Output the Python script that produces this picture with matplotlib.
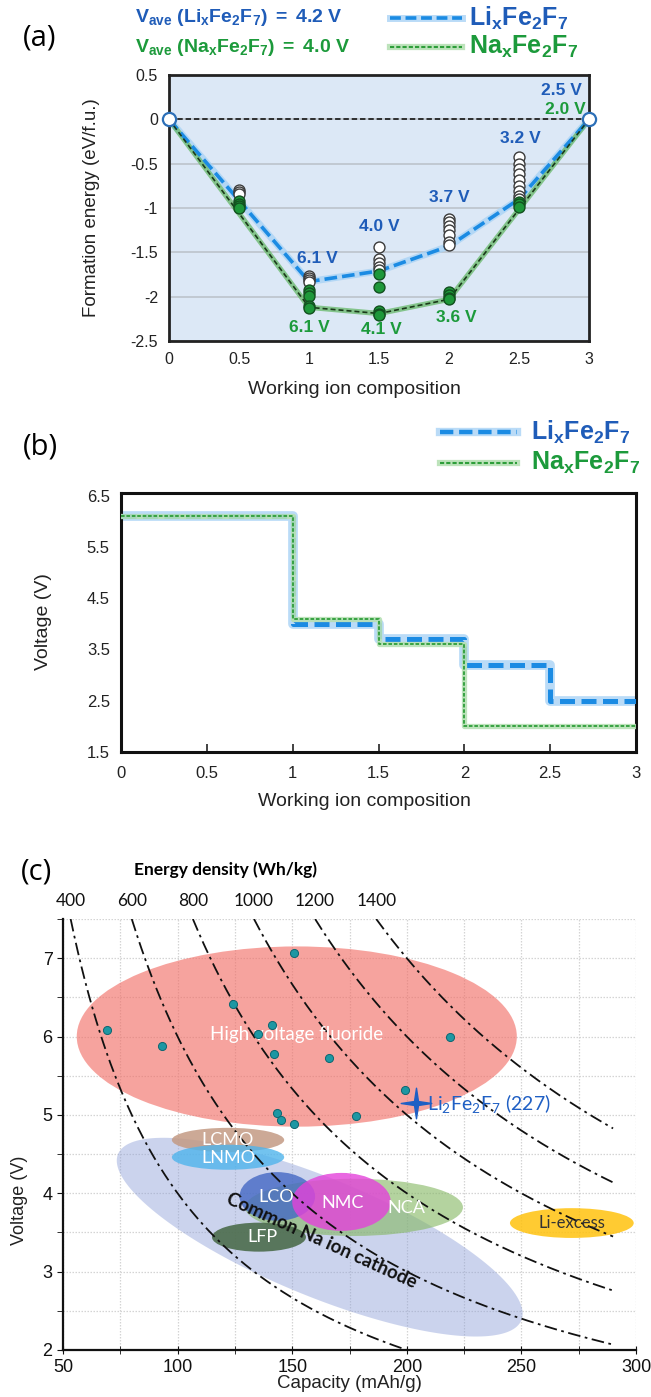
import numpy as np
import matplotlib
matplotlib.use("Agg")
import matplotlib.pyplot as plt
from matplotlib import font_manager
from matplotlib.lines import Line2D
from matplotlib.patches import Ellipse
from matplotlib.path import Path

W, H = 651, 1397


def has_font(name):
    try:
        font_manager.findfont(font_manager.FontProperties(family=name),
                              fallback_to_default=False)
        return True
    except Exception:
        return False


NARROW = 'Liberation Sans Narrow' if has_font('Liberation Sans Narrow') else 'Liberation Sans'
plt.rcParams['font.family'] = ['Liberation Sans', 'DejaVu Sans']
plt.rcParams['mathtext.fontset'] = 'custom'
plt.rcParams['mathtext.rm'] = NARROW
plt.rcParams['mathtext.bf'] = NARROW + ':bold'
plt.rcParams['mathtext.it'] = NARROW + ':italic'
plt.rcParams['mathtext.sf'] = 'Lato' if has_font('Lato') else 'DejaVu Sans'

# ---------------- data: panel (a) ----------------
comp_ticks = [0, 0.5, 1, 1.5, 2, 2.5, 3]
comp_tick_labels = ['0', '0.5', '1', '1.5', '2', '2.5', '3']
energy_ticks = [0.5, 0, -0.5, -1, -1.5, -2, -2.5]
energy_tick_labels = ['0.5', '0', '-0.5', '-1', '-1.5', '-2', '-2.5']

li_hull_x = [0, 1, 1.5, 2, 2.5, 3]
li_hull_e = [0, -1.83, -1.71, -1.43, -0.90, 0]
na_hull_x = [0, 1, 1.5, 2, 3]
na_hull_e = [0, -2.12, -2.19, -2.03, 0]

li_pts_x = [0.5, 0.5, 0.5, 1, 1, 1, 1, 1.5, 1.5, 1.5, 1.5, 1.5,
            2, 2, 2, 2, 2, 2, 2, 2.5, 2.5, 2.5, 2.5, 2.5, 2.5, 2.5, 2.5, 2.5]
li_pts_e = [-0.80, -0.82, -0.84, -1.77, -1.79, -1.81, -1.83,
            -1.44, -1.58, -1.62, -1.66, -1.70,
            -1.12, -1.16, -1.20, -1.25, -1.30, -1.38, -1.42,
            -0.43, -0.50, -0.56, -0.62, -0.68, -0.75, -0.81, -0.86, -0.90]
na_pts_x = [0.5, 0.5, 0.5, 0.5, 1, 1, 1, 1, 1, 1.5, 1.5, 1.5, 1.5, 1.5,
            2, 2, 2, 2, 2.5, 2.5, 2.5]
na_pts_e = [-0.92, -0.95, -0.98, -1.00, -1.93, -1.96, -1.99, -2.11, -2.13,
            -1.75, -1.89, -2.16, -2.19, -2.21,
            -1.95, -1.98, -2.01, -2.03, -0.93, -0.96, -0.99]
end_x = [0, 3]
end_e = [0, 0]

li_volt_labels = ['6.1 V', '4.0 V', '3.7 V', '3.2 V', '2.5 V']
li_volt_x = [1.06, 1.50, 2.00, 2.51, 2.80]
li_volt_y = [-1.57, -1.21, -0.88, -0.22, 0.32]
na_volt_labels = ['6.1 V', '4.1 V', '3.6 V', '2.0 V']
na_volt_x = [1.00, 1.52, 2.05, 2.83]
na_volt_y = [-2.35, -2.37, -2.23, 0.11]

# ---------------- data: panel (b) ----------------
li_step_x = [0, 1, 1.5, 2, 2.5, 3]
li_step_v = [6.1, 4.0, 3.7, 3.2, 2.5, 2.5]
na_step_x = [0, 1, 1.5, 2, 3]
na_step_v = [6.1, 4.1, 3.6, 2.0, 2.0]
volt_ticks = [1.5, 2.5, 3.5, 4.5, 5.5, 6.5]
volt_tick_labels = ['1.5', '2.5', '3.5', '4.5', '5.5', '6.5']

# ---------------- data: panel (c) ----------------
energy_levels = [400, 600, 800, 1000, 1200, 1400]
fluoride_cap = [69, 93, 124, 135, 141, 142, 151, 166, 219, 199, 143.5, 145, 151, 178]
fluoride_volt = [6.08, 5.88, 6.42, 6.03, 6.15, 5.78, 7.07, 5.73, 5.99, 5.32,
                 5.03, 4.93, 4.88, 4.98]
li2fe2f7_cap = [204]
li2fe2f7_volt = [5.15]

region_names = ['High voltage fluoride', 'LCMO', 'LNMO', 'NCA', 'LCO', 'NMC', 'LFP', 'Li-excess']
region_cx = [152, 122, 122, 177, 143.5, 171.5, 135.5, 272]
region_cy = [6.0, 4.68, 4.46, 3.82, 3.96, 3.89, 3.44, 3.62]
region_w = [192, 49, 49, 95, 33, 43, 41, 54]
region_h = [2.3, 0.31, 0.32, 0.73, 0.62, 0.74, 0.37, 0.38]
region_colors = ['#F26B63', '#C39A84', '#4FB4EC', '#86B865', '#4468C4', '#E442DA', '#4C6C4C', '#FFC20E']
region_alpha = [0.62, 0.85, 0.8, 0.62, 0.8, 0.8, 0.9, 0.85]
region_text_color = ['white', 'white', 'white', 'white', 'white', 'white', 'white', '#333333']
region_text_x = [152, 122, 122, 200, 143, 172, 137, 272]
region_text_y = [6.02, 4.68, 4.45, 3.81, 3.95, 3.87, 3.44, 3.62]
region_text_size = [13.5, 13, 13, 13, 13, 13, 13, 12]

na_cathode_tips_cap = [74, 250]
na_cathode_tips_volt = [4.50, 2.38]
na_cathode_minor_px = 118

cap_ticks = [50, 100, 150, 200, 250, 300]
volt_c_ticks = [2, 3, 4, 5, 6, 7]

# ---------------- colours ----------------
LI_TXT = '#1F5CB8'
NA_TXT = '#1C9A3B'
LI_LINE = '#1B8BE3'
LI_HALO = '#A9D3F5'
NA_LINE = '#2E9E3A'
NA_HALO = '#B6E0B4'

fig = plt.figure(figsize=(W / 100, H / 100), dpi=100)


def axes_px(l, t, r, b):
    return fig.add_axes([l / W, 1 - b / H, (r - l) / W, (b - t) / H])


def ftext(x, y, s, **kw):
    return fig.text(x / W, 1 - y / H, s, **kw)


def fline(x0, x1, y, **kw):
    fig.add_artist(Line2D([x0 / W, x1 / W], [1 - y / H, 1 - y / H],
                          transform=fig.transFigure, **kw))


# =============== panel (a) ===============
axa = axes_px(169, 75, 589, 341)
axa.set_xlim(0, 3)
axa.set_ylim(-2.5, 0.5)
axa.set_facecolor('#DCE8F6')
axa.set_yticks(energy_ticks)
axa.set_yticklabels(energy_tick_labels)
axa.set_xticks(comp_ticks)
axa.set_xticklabels(comp_tick_labels)
axa.yaxis.grid(True, color='#B9C0C8', lw=1.1)
axa.set_axisbelow(True)
axa.tick_params(length=0, labelsize=11.5, pad=8, colors='#222222')
for sp in axa.spines.values():
    sp.set_linewidth(2.0)
    sp.set_color('#222222')
axa.axhline(0, color='#222222', lw=1.3, ls=(0, (3, 1.6)), zorder=2)

axa.plot(li_hull_x, li_hull_e, color=LI_HALO, lw=5, alpha=0.8, zorder=2.5, solid_capstyle='round')
axa.plot(li_hull_x, li_hull_e, color=LI_LINE, lw=2.6, ls=(0, (3.5, 1.4)), zorder=3)
axa.plot(na_hull_x, na_hull_e, color='#5FB65F', lw=3.8, alpha=0.7, zorder=2.5)
axa.plot(na_hull_x, na_hull_e, color='#1A3A1A', lw=1.2, ls=(0, (3, 1.8)), zorder=3)

axa.scatter(li_pts_x, li_pts_e, s=62, facecolor='white', edgecolor='#3A3A3A', lw=1.0, zorder=4)
axa.scatter(na_pts_x, na_pts_e, s=62, facecolor='#1E983A', edgecolor='#12501F', lw=1.0, zorder=5)
axa.scatter(end_x, end_e, s=90, facecolor='white', edgecolor='#2C6FB7', lw=1.6, zorder=6, clip_on=False)

for s, x, y in zip(li_volt_labels, li_volt_x, li_volt_y):
    axa.text(x, y, s, color=LI_TXT, fontsize=12.5, fontweight='bold', ha='center', va='center', zorder=7)
for s, x, y in zip(na_volt_labels, na_volt_x, na_volt_y):
    axa.text(x, y, s, color=NA_TXT, fontsize=12.5, fontweight='bold', ha='center', va='center', zorder=7)

ftext(92, 208, 'Formation energy (eV/f.u.)', rotation=90, ha='center', va='center', fontsize=13.5, color='#222222')
ftext(354, 390, 'Working ion composition', ha='center', va='center', fontsize=14, color='#222222')
ftext(40, 38, '(a)', ha='center', va='center', fontsize=21, family=['Open Sans', 'DejaVu Sans'])

ftext(135, 18, r'$\mathbf{V_{ave}\ (Li_{x}Fe_{2}F_{7})\ =\ 4.2\ V}$', color=LI_TXT, fontsize=14, ha='left', va='center')
ftext(135, 47, r'$\mathbf{V_{ave}\ (Na_{x}Fe_{2}F_{7})\ =\ 4.0\ V}$', color=NA_TXT, fontsize=14, ha='left', va='center')


def legend_pair(y_li, y_na, x0, x1, xt, size, thick):
    fline(x0, x1, y_li, color=LI_HALO, lw=6 if thick else 5, alpha=0.8)
    fline(x0, x1, y_li, color=LI_LINE, lw=3.2 if thick else 2.6, ls=(0, (3, 1.3)))
    fline(x0, x1, y_na, color=NA_HALO, lw=4.5, alpha=0.9)
    fline(x0, x1, y_na, color=NA_LINE, lw=1.5, ls=(0, (2, 1)))
    ftext(xt, y_li, r'$\mathbf{Li_{x}Fe_{2}F_{7}}$', color=LI_TXT, fontsize=size, ha='left', va='center')
    ftext(xt, y_na, r'$\mathbf{Na_{x}Fe_{2}F_{7}}$', color=NA_TXT, fontsize=size, ha='left', va='center')


legend_pair(18, 47, 390, 462, 469, 18, False)

# =============== panel (b) ===============
axb = axes_px(121, 493, 636, 752)
axb.set_xlim(0, 3)
axb.set_ylim(1.5, 6.55)
axb.set_yticks(volt_ticks)
axb.set_yticklabels(volt_tick_labels)
axb.set_xticks(comp_ticks)
axb.set_xticklabels(comp_tick_labels)
axb.tick_params(axis='y', length=0, labelsize=12, pad=8, colors='#222222')
axb.tick_params(axis='x', direction='in', length=6, width=1.2, labelsize=12, pad=10, colors='#222222')
for sp in axb.spines.values():
    sp.set_linewidth(2.2)
    sp.set_color('#111111')
axb.step(li_step_x, li_step_v, where='post', color=LI_HALO, lw=7, alpha=0.8, zorder=2)
axb.step(li_step_x, li_step_v, where='post', color=LI_LINE, lw=3.6, ls=(0, (3, 1.3)), zorder=3)
axb.step(na_step_x, na_step_v, where='post', color=NA_HALO, lw=3.8, alpha=0.9, zorder=4)
axb.step(na_step_x, na_step_v, where='post', color=NA_LINE, lw=1.3, ls=(0, (2, 1)), zorder=5)

ftext(44, 622, 'Voltage (V)', rotation=90, ha='center', va='center', fontsize=14, color='#222222')
ftext(364, 802, 'Working ion composition', ha='center', va='center', fontsize=14, color='#222222')
ftext(40, 447, '(b)', ha='center', va='center', fontsize=21, family=['Open Sans', 'DejaVu Sans'])
legend_pair(432, 463, 440, 517, 531, 18, True)

# =============== panel (c) ===============
axc = axes_px(63, 919, 636, 1350)
axc.set_xlim(50, 300)
axc.set_ylim(2, 7.5)
for side in ['top', 'right']:
    axc.spines[side].set_visible(False)
for side in ['left', 'bottom']:
    axc.spines[side].set_linewidth(1.6)
    axc.spines[side].set_color('#111111')
axc.set_xticks(cap_ticks)
axc.set_xticks([75, 125, 175, 225, 275], minor=True)
axc.set_yticks(volt_c_ticks)
axc.set_yticks([2.5, 3.5, 4.5, 5.5, 6.5, 7.5], minor=True)
axc.tick_params(axis='both', which='both', labelsize=13, colors='#111111')
axc.tick_params(axis='x', which='both', direction='inout', length=6)
axc.tick_params(axis='y', which='both', direction='out', length=4)
axc.grid(True, which='both', color='#D4D4D4', lw=0.9, ls=(0, (1.2, 1.2)))
axc.set_axisbelow(True)
axc.set_xlabel('Capacity (mAh/g)', fontsize=13.5, labelpad=-1, color='#222222')

# rotated "common Na ion cathode" ellipse, built in display space
p = axc.transData.transform(np.column_stack([na_cathode_tips_cap, na_cathode_tips_volt]))
ctr = p.mean(axis=0)
d = p[1] - p[0]
a = np.hypot(*d) / 2
ang = np.arctan2(d[1], d[0])
b = na_cathode_minor_px / 2
t = np.linspace(0, 2 * np.pi, 200)
ex = ctr[0] + a * np.cos(t) * np.cos(ang) - b * np.sin(t) * np.sin(ang)
ey = ctr[1] + a * np.cos(t) * np.sin(ang) + b * np.sin(t) * np.cos(ang)
dpts = axc.transData.inverted().transform(np.column_stack([ex, ey]))
axc.fill(dpts[:, 0], dpts[:, 1], color='#8D9FD8', alpha=0.45, lw=0, zorder=1)

for i in range(len(region_names)):
    axc.add_patch(Ellipse((region_cx[i], region_cy[i]), region_w[i], region_h[i],
                          facecolor=region_colors[i], alpha=region_alpha[i], lw=0, zorder=2 + i * 0.1))
for i in range(len(region_names)):
    axc.text(region_text_x[i], region_text_y[i], region_names[i], color=region_text_color[i],
             fontsize=region_text_size[i], ha='center', va='center', zorder=6,
             family=['Lato', 'DejaVu Sans'])

cen = axc.transData.inverted().transform(ctr)
axc.text(cen[0] + 1, cen[1] - 0.05, 'Common Na ion cathode', rotation=np.degrees(ang) - 2,
         rotation_mode='anchor', ha='center', va='center', fontsize=13.5, fontweight='bold',
         family=['Lato', 'DejaVu Sans'], color='#111111', zorder=7)

for E in energy_levels:
    c = np.linspace(E / 7.5, 290, 300)
    v = E / c
    m = v >= 2.0
    axc.plot(c[m], v[m], color='#111111', lw=1.3, ls=(0, (7, 2.5, 1.5, 2.5)), zorder=5)
    axc.text(E / 7.5, 7.5 + 0.13, str(E), ha='center', va='bottom', fontsize=12.5,
             family=['Lato', 'DejaVu Sans'], color='#111111')

axc.scatter(fluoride_cap, fluoride_volt, s=34, facecolor='#1D97A3', edgecolor='#0E6670', lw=0.7, zorder=8)

star_path = Path([(0, 1), (0.13, 0.13), (1, 0), (0.13, -0.13), (0, -1), (-0.13, -0.13),
                  (-1, 0), (-0.13, 0.13), (0, 1)],
                 [Path.MOVETO] + [Path.LINETO] * 7 + [Path.CLOSEPOLY])
axc.plot(li2fe2f7_cap, li2fe2f7_volt, marker=star_path, markersize=22, color='#1F5FC4', lw=0, zorder=9)
axc.text(li2fe2f7_cap[0] + 5, li2fe2f7_volt[0], r'$\mathsf{Li_{2}Fe_{2}F_{7}\ (227)}$', color='#1F5FC4',
         fontsize=14, ha='left', va='center', zorder=9)

ftext(20, 1200, 'Voltage (V)', rotation=90, ha='center', va='center', fontsize=13, color='#222222')
ftext(225, 870, 'Energy density (Wh/kg)', ha='center', va='center', fontsize=12.5, fontweight='bold',
      family=['Lato', 'DejaVu Sans'])
ftext(37, 872, '(c)', ha='center', va='center', fontsize=21, family=['Open Sans', 'DejaVu Sans'])

fig.savefig('out.png', dpi=100)
